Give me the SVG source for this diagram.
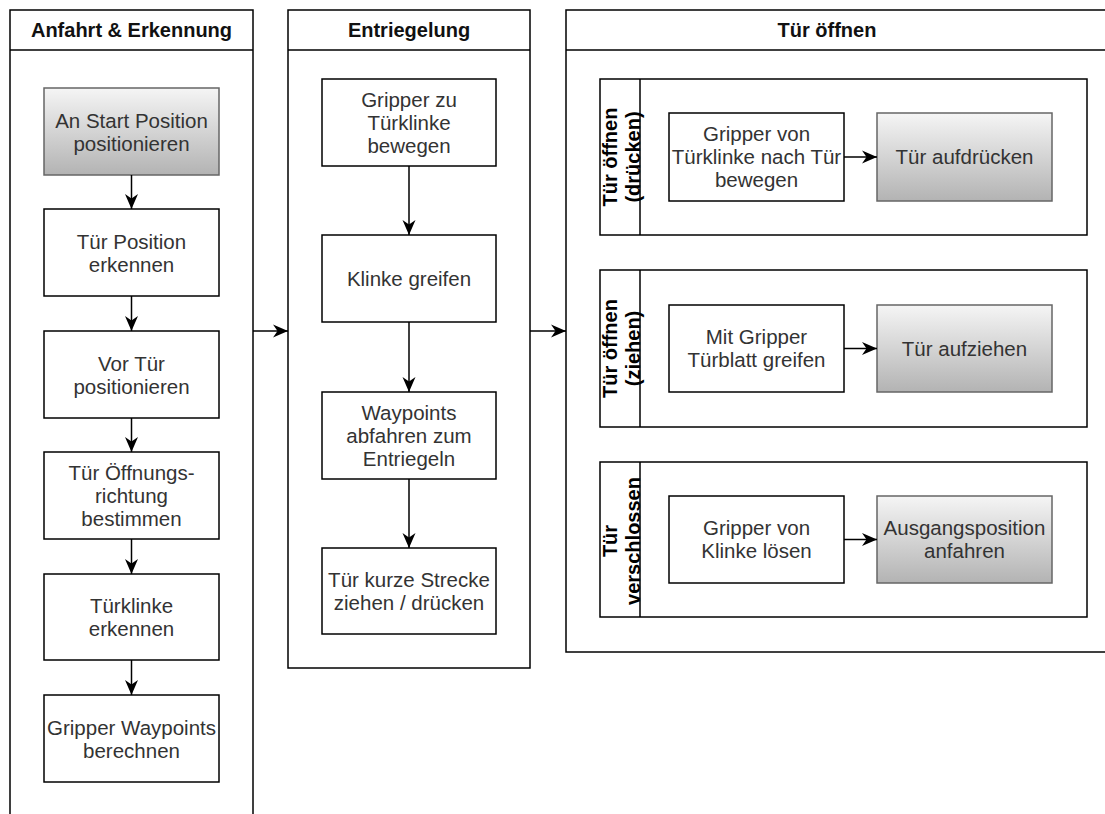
<svg xmlns="http://www.w3.org/2000/svg" width="1105" height="814" viewBox="0 0 1105 814">
  <style>
    .lane { fill: #ffffff; stroke: #000000; stroke-width: 1.5; }
    .box { fill: #ffffff; stroke: #000000; stroke-width: 1.5; }
    .gbox { fill: url(#grayGrad); stroke: #666666; stroke-width: 1.5; }
    .hdr { font-family: "Liberation Sans", Arial, sans-serif; font-size: 20px; font-weight: bold; fill: #111111; text-anchor: middle; }
    .lbl { font-family: "Liberation Sans", Arial, sans-serif; font-size: 20.5px; fill: #333333; text-anchor: middle; }
    .vlbl { font-family: "Liberation Sans", Arial, sans-serif; font-size: 20px; font-weight: bold; fill: #000000; text-anchor: middle; }
    .edge { fill: none; stroke: #000000; stroke-width: 1.5; marker-end: url(#arrow); }
  </style>
  <defs>
    <linearGradient id="grayGrad" x1="0" y1="0" x2="0" y2="1">
      <stop offset="0" stop-color="#f5f5f5"/>
      <stop offset="1" stop-color="#b3b3b3"/>
    </linearGradient>
    <marker id="arrow" markerUnits="userSpaceOnUse" markerWidth="15" markerHeight="13" refX="15" refY="6.5" orient="auto" overflow="visible">
      <path d="M0,0 L15,6.5 L0,13 L4.5,6.5 Z" fill="#000000"/>
    </marker>
  </defs>

  <rect width="1105" height="814" fill="#ffffff"/>

  <!-- Swimlane 1 -->
  <g id="lane-anfahrt">
    <rect class="lane" x="10" y="10" width="243" height="830"/>
    <line x1="10" y1="50" x2="253" y2="50" stroke="#000" stroke-width="1.5"/>
    <text class="hdr" x="131.5" y="37">Anfahrt &amp; Erkennung</text>
  </g>

  <!-- Swimlane 2 -->
  <g id="lane-entriegelung">
    <rect class="lane" x="288" y="10" width="242" height="658"/>
    <line x1="288" y1="50" x2="530" y2="50" stroke="#000" stroke-width="1.5"/>
    <text class="hdr" x="409" y="37">Entriegelung</text>
  </g>

  <!-- Swimlane 3 -->
  <g id="lane-tuer-oeffnen">
    <rect class="lane" x="566" y="10" width="560" height="642"/>
    <line x1="566" y1="50" x2="1126" y2="50" stroke="#000" stroke-width="1.5"/>
    <text class="hdr" x="827" y="37">Tür öffnen</text>
  </g>

  <!-- Sub-lanes of swimlane 3 -->
  <g id="sub-druecken">
    <rect class="lane" x="600" y="79" width="487" height="156"/>
    <line x1="640" y1="79" x2="640" y2="235" stroke="#000" stroke-width="1.5"/>
    <text class="vlbl" transform="translate(0 157) rotate(-90)"><tspan x="0" y="617">Tür öffnen</tspan><tspan x="0" y="640">(drücken)</tspan></text>
  </g>
  <g id="sub-ziehen">
    <rect class="lane" x="600" y="270" width="487" height="157"/>
    <line x1="640" y1="270" x2="640" y2="427" stroke="#000" stroke-width="1.5"/>
    <text class="vlbl" transform="translate(0 348.5) rotate(-90)"><tspan x="0" y="617">Tür öffnen</tspan><tspan x="0" y="640">(ziehen)</tspan></text>
  </g>
  <g id="sub-verschlossen">
    <rect class="lane" x="600" y="462" width="487" height="155"/>
    <line x1="640" y1="462" x2="640" y2="617" stroke="#000" stroke-width="1.5"/>
    <text class="vlbl" transform="translate(0 541) rotate(-90)"><tspan x="0" y="617">Tür</tspan><tspan x="0" y="640">verschlossen</tspan></text>
  </g>

  <!-- Steps: Anfahrt & Erkennung -->
  <g id="a1">
    <rect class="gbox" x="44" y="88" width="175" height="87"/>
    <text class="lbl"><tspan x="131.5" y="127.5">An Start Position</tspan><tspan x="131.5" y="150.5">positionieren</tspan></text>
  </g>
  <g id="a2">
    <rect class="box" x="44" y="209" width="175" height="87"/>
    <text class="lbl"><tspan x="131.5" y="248.5">Tür Position</tspan><tspan x="131.5" y="271.5">erkennen</tspan></text>
  </g>
  <g id="a3">
    <rect class="box" x="44" y="331" width="175" height="87"/>
    <text class="lbl"><tspan x="131.5" y="370.5">Vor Tür</tspan><tspan x="131.5" y="393.5">positionieren</tspan></text>
  </g>
  <g id="a4">
    <rect class="box" x="44" y="452" width="175" height="87"/>
    <text class="lbl"><tspan x="131.5" y="480">Tür Öffnungs-</tspan><tspan x="131.5" y="503">richtung</tspan><tspan x="131.5" y="526">bestimmen</tspan></text>
  </g>
  <g id="a5">
    <rect class="box" x="44" y="574" width="175" height="86"/>
    <text class="lbl"><tspan x="131.5" y="613">Türklinke</tspan><tspan x="131.5" y="636">erkennen</tspan></text>
  </g>
  <g id="a6">
    <rect class="box" x="44" y="695" width="175" height="87"/>
    <text class="lbl"><tspan x="131.5" y="734.5">Gripper Waypoints</tspan><tspan x="131.5" y="757.5">berechnen</tspan></text>
  </g>

  <!-- Steps: Entriegelung -->
  <g id="e1">
    <rect class="box" x="322" y="79" width="174" height="87"/>
    <text class="lbl"><tspan x="409" y="107">Gripper zu</tspan><tspan x="409" y="130">Türklinke</tspan><tspan x="409" y="153">bewegen</tspan></text>
  </g>
  <g id="e2">
    <rect class="box" x="322" y="235" width="174" height="87"/>
    <text class="lbl"><tspan x="409" y="286">Klinke greifen</tspan></text>
  </g>
  <g id="e3">
    <rect class="box" x="322" y="392" width="174" height="87"/>
    <text class="lbl"><tspan x="409" y="420">Waypoints</tspan><tspan x="409" y="443">abfahren zum</tspan><tspan x="409" y="466">Entriegeln</tspan></text>
  </g>
  <g id="e4">
    <rect class="box" x="322" y="548" width="174" height="86"/>
    <text class="lbl"><tspan x="409" y="587">Tür kurze Strecke</tspan><tspan x="409" y="610">ziehen / drücken</tspan></text>
  </g>

  <!-- Steps: Tür öffnen -->
  <g id="d1">
    <rect class="box" x="669" y="113" width="175" height="88"/>
    <text class="lbl"><tspan x="756.5" y="141">Gripper von</tspan><tspan x="756.5" y="164">Türklinke nach Tür</tspan><tspan x="756.5" y="187">bewegen</tspan></text>
  </g>
  <g id="d2">
    <rect class="gbox" x="877" y="113" width="175" height="88"/>
    <text class="lbl"><tspan x="964.5" y="164">Tür aufdrücken</tspan></text>
  </g>
  <g id="z1">
    <rect class="box" x="669" y="305" width="175" height="87"/>
    <text class="lbl"><tspan x="756.5" y="344">Mit Gripper</tspan><tspan x="756.5" y="367">Türblatt greifen</tspan></text>
  </g>
  <g id="z2">
    <rect class="gbox" x="877" y="305" width="175" height="87"/>
    <text class="lbl"><tspan x="964.5" y="355.5">Tür aufziehen</tspan></text>
  </g>
  <g id="v1">
    <rect class="box" x="669" y="496" width="175" height="87"/>
    <text class="lbl"><tspan x="756.5" y="535">Gripper von</tspan><tspan x="756.5" y="558">Klinke lösen</tspan></text>
  </g>
  <g id="v2">
    <rect class="gbox" x="877" y="496" width="175" height="87"/>
    <text class="lbl"><tspan x="964.5" y="535">Ausgangsposition</tspan><tspan x="964.5" y="558">anfahren</tspan></text>
  </g>

  <!-- Connectors -->
  <g id="connectors">
    <path class="edge" d="M131.5,175 V209"/>
    <path class="edge" d="M131.5,296 V331"/>
    <path class="edge" d="M131.5,418 V452"/>
    <path class="edge" d="M131.5,539 V574"/>
    <path class="edge" d="M131.5,660 V695"/>
    <path class="edge" d="M253,331 H288"/>
    <path class="edge" d="M409,166 V235"/>
    <path class="edge" d="M409,322 V392"/>
    <path class="edge" d="M409,479 V548"/>
    <path class="edge" d="M530,331 H566"/>
    <path class="edge" d="M844,157 H877"/>
    <path class="edge" d="M844,348.5 H877"/>
    <path class="edge" d="M844,539.5 H877"/>
  </g>
</svg>
